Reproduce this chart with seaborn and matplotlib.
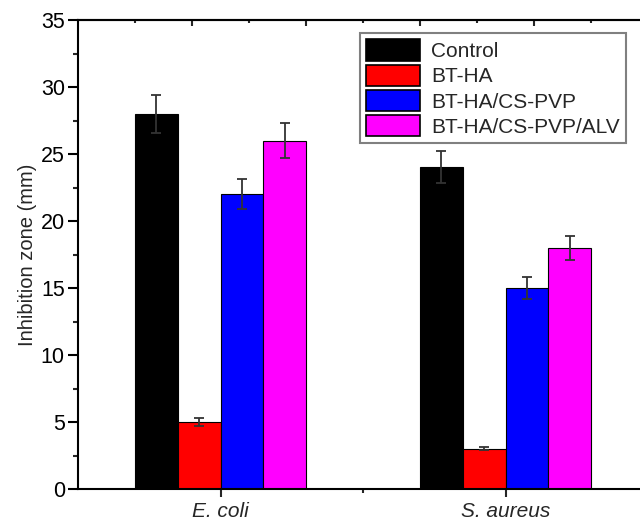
import numpy as np
import pandas as pd
import matplotlib
matplotlib.use('Agg')
import matplotlib.pyplot as plt
import seaborn as sns
from matplotlib.patches import Patch
from matplotlib.ticker import MultipleLocator, FixedLocator

# ── данные ────────────────────────────────────────────────────────────────
bacteria = ['E. coli', 'S. aureus']
samples = ['Control', 'BT-HA', 'BT-HA/CS-PVP', 'BT-HA/CS-PVP/ALV']
ecoli = [28, 5, 22, 26]
ecoli_err = [1.4, 0.3, 1.1, 1.3]
saureus = [24, 3, 15, 18]
saureus_err = [1.2, 0.1, 0.8, 0.9]
colors = ['#000000', '#ff0000', '#0000ff', '#ff00ff']

df = pd.DataFrame({
    'bacteria': np.repeat(bacteria, len(samples)),
    'sample': samples * len(bacteria),
    'zone': ecoli + saureus,
    'err': ecoli_err + saureus_err,
})

sns.set_style('ticks')
plt.rcParams['font.family'] = ['Liberation Sans', 'DejaVu Sans']

fig = plt.figure(figsize=(6.4, 5.21), dpi=100)
ax = fig.add_axes([78 / 640, 32 / 521, 570 / 640, 469 / 521])

sns.barplot(data=df, x='bacteria', y='zone', hue='sample', hue_order=samples,
            palette=colors, saturation=1, width=0.6, edgecolor='black',
            linewidth=0.8, errorbar=None, ax=ax)

# планки погрешностей по центрам столбцов
bar_conts = list(ax.containers)
for i, cont in enumerate(bar_conts):
    sub = df[df['sample'] == samples[i]]
    xs = [b.get_x() + b.get_width() / 2 for b in cont]
    ax.errorbar(xs, sub['zone'], yerr=sub['err'], fmt='none',
                ecolor='#333333', elinewidth=1.3, capsize=3.3, capthick=1.3)

ax.set_xlim(-0.5, 1.5)
ax.set_ylim(0, 35)
ax.yaxis.set_major_locator(MultipleLocator(5))
ax.yaxis.set_minor_locator(MultipleLocator(2.5))
ax.xaxis.set_minor_locator(FixedLocator([0.5]))
ax.tick_params(axis='y', which='major', direction='out', length=7, width=1.5,
               labelsize=15.5, pad=2.5, colors='black')
ax.tick_params(axis='y', which='minor', direction='out', length=3.5, width=1.5)
ax.tick_params(axis='x', which='major', direction='out', length=6, width=1.5,
               labelsize=15, pad=3.5)
ax.tick_params(axis='x', which='minor', direction='out', length=3, width=1.5)
for lab in ax.get_xticklabels():
    lab.set_fontstyle('italic')

ax.set_xlabel('')
ax.set_ylabel('Inhibition zone (mm)', fontsize=14.5, labelpad=3)

for s in ax.spines.values():
    s.set_linewidth(1.5)
    s.set_color('black')
    s.set_visible(True)

top = ax.secondary_xaxis('top')
top.xaxis.set_major_locator(FixedLocator([-0.1, 0.3, 0.7, 1.1]))
top.xaxis.set_minor_locator(FixedLocator([-0.3, 0.1, 0.5, 0.9, 1.3]))
top.tick_params(which='major', direction='in', length=4, width=1.5, labeltop=False)
top.tick_params(which='minor', direction='in', length=2.5, width=1.5)
top.spines['top'].set_linewidth(1.5)

handles = [Patch(facecolor=c, edgecolor='black', linewidth=1.2) for c in colors]
ax.get_legend().remove()
leg = ax.legend(handles, samples, loc='upper right', bbox_to_anchor=(0.961, 0.972),
                borderaxespad=0, fontsize=15, frameon=True, fancybox=False,
                edgecolor='#808080', framealpha=1, handlelength=2.6, handleheight=1.2,
                labelspacing=0.17, borderpad=0.3, handletextpad=0.5)
leg.get_frame().set_linewidth(1.5)

plt.savefig('out.png', dpi=100)
plt.close()
